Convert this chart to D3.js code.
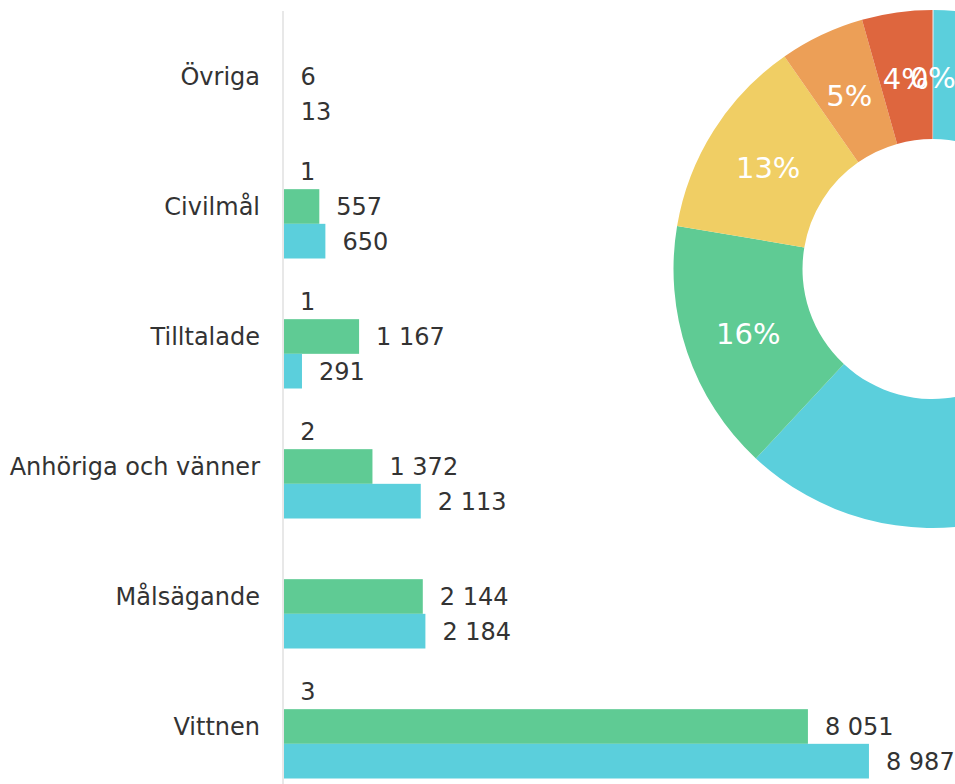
<!DOCTYPE html>
<html>
<head>
<meta charset="utf-8">
<script src="https://cdn.jsdelivr.net/npm/d3@7"></script>
<style>
  body { margin: 0; background: #fff; }
  svg text { font-family: "DejaVu Sans", Verdana, sans-serif; }
</style>
</head>
<body>
<svg id="chart" width="955" height="784"></svg>
<script>
// categories, top to bottom
var categories = ["Övriga", "Civilmål", "Tilltalade", "Anhöriga och vänner", "Målsägande", "Vittnen"];
// three series per category (first one is tiny)
var series1 = [null, 1, 1, 2, null, 3];
var series2 = [6, 557, 1167, 1372, 2144, 8051];
var series3 = [13, 650, 291, 2113, 2184, 8987];
var seriesNames = ["s1", "s2", "s3"];
var seriesColors = ["#EC9F57", "#5FCB94", "#5BCFDC"];

// donut: share per category, clockwise from 12 o'clock
var pieOrder = ["Övriga", "Vittnen", "Målsägande", "Anhöriga och vänner", "Tilltalade", "Civilmål"];
var pieColors = ["#d6dde0", "#5BCFDC", "#5FCB94", "#F0CE64", "#EC9F57", "#DE663E"];

var svg = d3.select("#chart");
var fmt = d3.formatLocale({decimal: ",", thousands: " ", grouping: [3], currency: ["", ""]}).format(",d");

var rows = categories.map(function(c, i) {
    return {cat: c, vals: [series1[i], series2[i], series3[i]]};
});

var x = d3.scaleLinear().domain([0, 10000]).range([283, 935]);
var y = d3.scaleBand().domain(categories).range([11.5, 791.5])
    .paddingInner(0.2).paddingOuter(0.1);
var y1 = d3.scaleBand().domain(seriesNames).range([0, y.bandwidth()]);

// category labels
svg.append("g").selectAll("text")
    .data(categories)
    .enter().append("text")
    .attr("x", 260)
    .attr("y", function(d) { return y(d) + y.bandwidth() / 2; })
    .attr("dy", "0.35em")
    .attr("text-anchor", "end")
    .attr("font-size", 24)
    .attr("fill", "#333")
    .text(function(d) { return d; });

var groups = svg.append("g").selectAll("g")
    .data(rows)
    .enter().append("g")
    .attr("transform", function(d) { return "translate(0," + y(d.cat) + ")"; });

var cells = groups.selectAll("g")
    .data(function(d) {
        return d.vals.map(function(v, j) { return {s: seriesNames[j], v: v, j: j}; })
            .filter(function(e) { return e.v != null; });
    })
    .enter().append("g");

cells.append("rect")
    .attr("x", x(0))
    .attr("y", function(d) { return y1(d.s); })
    .attr("width", function(d) { return x(d.v) - x(0); })
    .attr("height", y1.bandwidth())
    .attr("fill", function(d) { return seriesColors[d.j]; });

cells.append("text")
    .attr("x", function(d) { return x(d.v) + 17; })
    .attr("y", function(d) { return y1(d.s) + y1.bandwidth() / 2; })
    .attr("dy", "0.35em")
    .attr("font-size", 24)
    .attr("fill", "#333")
    .text(function(d) { return fmt(d.v); });

// axis line
svg.append("line")
    .attr("x1", 283).attr("x2", 283)
    .attr("y1", 11).attr("y2", 800)
    .attr("stroke", "#e8e8e8")
    .attr("stroke-width", 2);

// donut
var totals = pieOrder.map(function(c) {
    var i = categories.indexOf(c);
    return (series1[i] || 0) + (series2[i] || 0) + (series3[i] || 0);
});
var sum = d3.sum(totals);
var pie = d3.pie().sort(null)(totals);
var R = 259, r = 130;
var arc = d3.arc().innerRadius(r).outerRadius(R);
var labelArc = d3.arc().innerRadius((R + r) / 2).outerRadius((R + r) / 2);

var donut = svg.append("g").attr("transform", "translate(932.5,269)");
donut.selectAll("path")
    .data(pie)
    .enter().append("path")
    .attr("d", arc)
    .attr("fill", function(d, i) { return pieColors[i]; });

donut.selectAll("text")
    .data(pie)
    .enter().append("text")
    .attr("transform", function(d) { return "translate(" + labelArc.centroid(d) + ")"; })
    .attr("dy", "0.45em")
    .attr("text-anchor", "middle")
    .attr("font-size", 29)
    .attr("fill", "#fff")
    .text(function(d) { return Math.round(d.value / sum * 100) + "%"; });
</script>
</body>
</html>
